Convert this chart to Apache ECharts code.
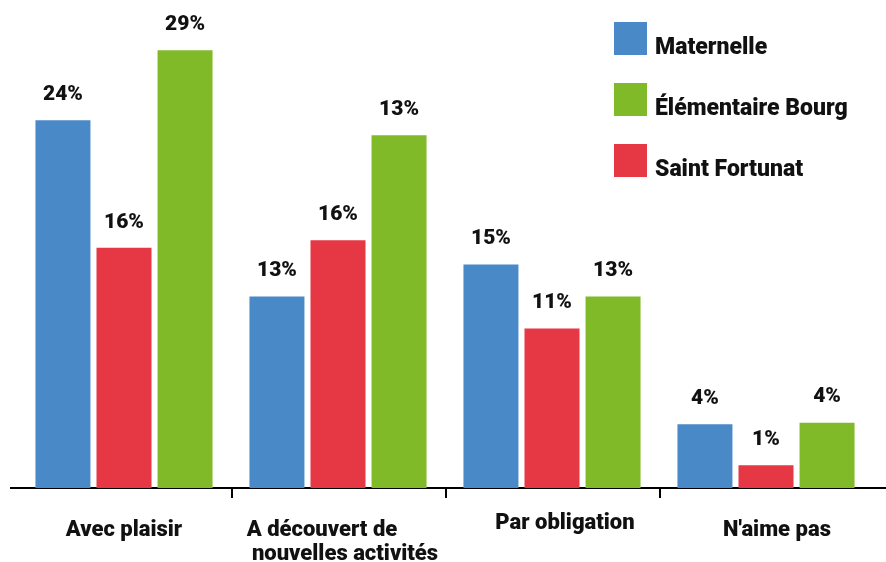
<!DOCTYPE html>
<html><head><meta charset="utf-8">
<script src="https://cdn.jsdelivr.net/npm/echarts@6/dist/echarts.min.js"></script>
<style>html,body{margin:0;padding:0;background:#fff}#c{width:886px;height:562px}</style>
</head><body><div id="c"></div>
<script>
const categories = ['Avec plaisir', 'A découvert de\nnouvelles activités', 'Par obligation', "N'aime pas"];
const legendOrder = ['Maternelle', 'Élémentaire Bourg', 'Saint Fortunat'];
const maternelle = [24.2, 12.6, 14.7, 4.2];
const saintFortunat = [15.8, 16.3, 10.5, 1.5];
const elementaire = [28.8, 23.2, 12.6, 4.3];
const maternelleLabels = ['24%', '13%', '15%', '4%'];
const saintFortunatLabels = ['16%', '16%', '11%', '1%'];
const elementaireLabels = ['29%', '13%', '13%', '4%'];

const FONT = 'Roboto';
const TXT = '#111';
const labelStyle = {
  show: true, position: 'top', distance: 15,
  fontFamily: FONT, fontWeight: 900, fontSize: 21, color: TXT
};
function mkSeries(name, data, labels, color) {
  return {
    name, type: 'bar', data, barWidth: 55, barGap: '11%',
    itemStyle: { color },
    label: Object.assign({}, labelStyle, { formatter: p => labels[p.dataIndex] })
  };
}
const catRich = ['{a|Avec plaisir}', '{c1|A découvert de}\n{c2|nouvelles activités}', '{p|Par obligation}', "{n|N'aime pas}"];
const base = { fontFamily: FONT, fontWeight: 900, fontSize: 22, color: TXT, lineHeight: 26 };

const chart = echarts.init(document.getElementById('c'));
chart.setOption({
  animation: false,
  grid: { left: 17, right: 13, top: 32, bottom: 74, containLabel: false, outerBoundsMode: 'none' },
  legend: {
    data: legendOrder, orient: 'vertical', left: 614, top: 22, padding: 0,
    itemWidth: 33, itemHeight: 33, itemGap: 23, icon: 'rect',
    formatter: n => '{t|' + n + '}',
    textStyle: {
      rich: { t: { fontFamily: FONT, fontWeight: 900, fontSize: 23, color: TXT, padding: [20, 0, 0, 3] } }
    }
  },
  xAxis: {
    type: 'category', data: categories,
    axisLine: { show: false }, axisTick: { show: false },
    axisLabel: {
      margin: 22, interval: 0,
      formatter: (v, i) => catRich[i],
      rich: {
        a: Object.assign({}, base, { padding: [15, 0, 0, 0] }),
        c1: Object.assign({}, base, { padding: [15, 32, 0, 0] }),
        c2: Object.assign({}, base, { padding: [10, 0, 0, 14] }),
        p: Object.assign({}, base, { padding: [0, 0, 0, 26] }),
        n: Object.assign({}, base, { padding: [15, 0, 0, 22] })
      }
    }
  },
  yAxis: { type: 'value', min: 0, max: 30, show: false, splitLine: { show: false } },
  series: [
    mkSeries('Maternelle', maternelle, maternelleLabels, '#4A89C8'),
    mkSeries('Saint Fortunat', saintFortunat, saintFortunatLabels, '#E63744'),
    mkSeries('Élémentaire Bourg', elementaire, elementaireLabels, '#80BA28')
  ]
});

// axis baseline and interior boundary ticks, placed from the chart's own scales
const y0 = chart.convertToPixel({ yAxisIndex: 0 }, 0);
const centers = categories.map((c, i) => chart.convertToPixel({ xAxisIndex: 0 }, i));
const g = [{ type: 'line', shape: { x1: 10, y1: y0, x2: 886, y2: y0 }, style: { stroke: '#000', lineWidth: 2 } }];
for (let i = 0; i < centers.length - 1; i++) {
  const x = Math.round((centers[i] + centers[i + 1]) / 2) + 1;
  g.push({ type: 'line', shape: { x1: x, y1: y0, x2: x, y2: y0 + 10 }, style: { stroke: '#000', lineWidth: 2 } });
}
chart.setOption({ graphic: g });
</script></body></html>
